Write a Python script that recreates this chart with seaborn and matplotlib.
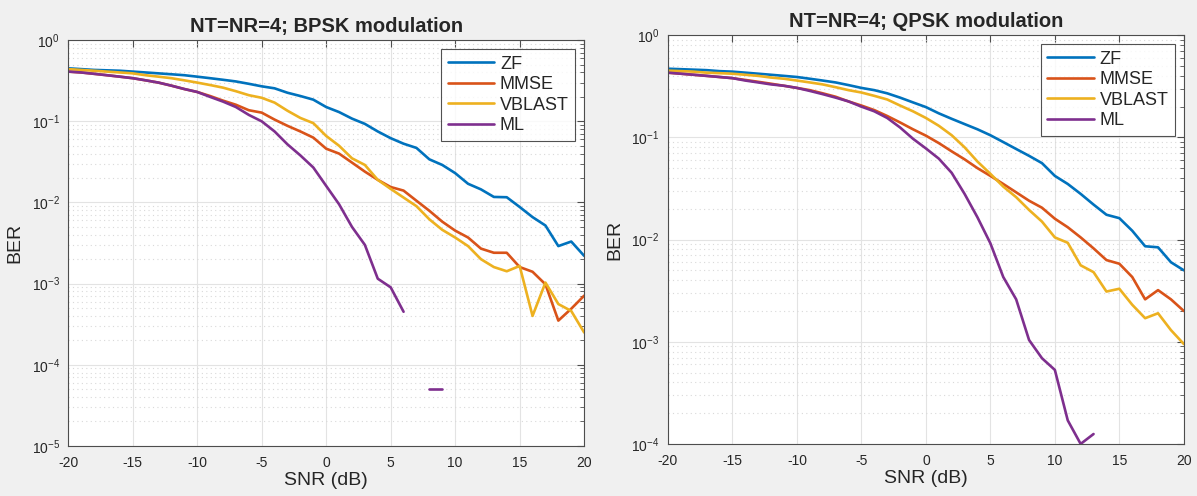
import numpy as np
import pandas as pd
import seaborn as sns
import matplotlib.pyplot as plt

# SNR axis (dB), one point per dB
snr = list(range(-20, 21))
methods = ["ZF", "MMSE", "VBLAST", "ML"]
matlab_colors = ["#0072BD", "#D95319", "#EDB120", "#7E2F8E"]
nan = np.nan

# -------- BPSK BER values --------
bpsk_zf = [0.45, 0.44, 0.43, 0.425, 0.42, 0.41, 0.40, 0.39, 0.38, 0.37,
           0.355, 0.34, 0.325, 0.31, 0.29, 0.27, 0.255, 0.225, 0.205, 0.185,
           0.15, 0.13, 0.108, 0.093, 0.075, 0.062, 0.053, 0.047, 0.034, 0.029,
           0.023, 0.017, 0.0145, 0.0117, 0.0116, 0.0088, 0.0066, 0.0052, 0.0029, 0.0033,
           0.0022]
bpsk_mmse = [0.41, 0.40, 0.385, 0.37, 0.355, 0.34, 0.32, 0.30, 0.275, 0.25,
             0.23, 0.205, 0.18, 0.16, 0.137, 0.128, 0.105, 0.088, 0.075, 0.063,
             0.046, 0.040, 0.031, 0.024, 0.019, 0.0155, 0.014, 0.0105, 0.0079, 0.0058,
             0.0045, 0.0037, 0.0027, 0.0024, 0.0024, 0.0016, 0.0014, 0.00098, 0.00035, 0.00049,
             0.00071]
bpsk_vblast = [0.44, 0.43, 0.42, 0.41, 0.40, 0.39, 0.37, 0.355, 0.34, 0.32,
               0.30, 0.28, 0.26, 0.235, 0.21, 0.195, 0.17, 0.135, 0.11, 0.095,
               0.066, 0.050, 0.035, 0.029, 0.019, 0.0147, 0.0115, 0.009, 0.0062, 0.0046,
               0.0037, 0.0029, 0.0020, 0.0016, 0.00142, 0.00165, 0.0004, 0.00103, 0.00056, 0.00046,
               0.00025]
bpsk_ml = [0.41, 0.40, 0.385, 0.37, 0.355, 0.34, 0.32, 0.30, 0.275, 0.25,
           0.23, 0.20, 0.175, 0.15, 0.12, 0.10, 0.075, 0.052, 0.038, 0.027,
           0.016, 0.0095, 0.005, 0.003, 0.00115, 0.0009, 0.00045, nan, 5e-5, 5e-5,
           nan, nan, nan, nan, nan, nan, nan, nan, nan, nan,
           nan]

# -------- QPSK BER values --------
qpsk_zf = [0.47, 0.465, 0.46, 0.455, 0.445, 0.44, 0.43, 0.42, 0.41, 0.40,
           0.39, 0.375, 0.36, 0.345, 0.325, 0.305, 0.29, 0.27, 0.245, 0.22,
           0.198, 0.172, 0.152, 0.135, 0.12, 0.105, 0.09, 0.077, 0.066, 0.056,
           0.042, 0.035, 0.028, 0.022, 0.0175, 0.0162, 0.0122, 0.0086, 0.0084, 0.006,
           0.005]
qpsk_mmse = [0.43, 0.42, 0.41, 0.40, 0.39, 0.38, 0.365, 0.35, 0.335, 0.32,
             0.305, 0.29, 0.27, 0.25, 0.225, 0.205, 0.185, 0.162, 0.14, 0.12,
             0.104, 0.088, 0.073, 0.061, 0.05, 0.042, 0.035, 0.029, 0.024, 0.0205,
             0.016, 0.0132, 0.0105, 0.0082, 0.0063, 0.0058, 0.0043, 0.0026, 0.0032, 0.0026,
             0.002]
qpsk_vblast = [0.45, 0.445, 0.44, 0.43, 0.425, 0.42, 0.41, 0.40, 0.385, 0.375,
               0.36, 0.345, 0.33, 0.31, 0.29, 0.275, 0.255, 0.235, 0.205, 0.18,
               0.155, 0.13, 0.105, 0.08, 0.058, 0.044, 0.033, 0.026, 0.0195, 0.015,
               0.0105, 0.0093, 0.0056, 0.0048, 0.0031, 0.0033, 0.0023, 0.0017, 0.0019, 0.0013,
               0.00095]
qpsk_ml = [0.43, 0.42, 0.41, 0.40, 0.39, 0.38, 0.36, 0.345, 0.33, 0.32,
           0.305, 0.285, 0.265, 0.245, 0.225, 0.20, 0.18, 0.155, 0.125, 0.097,
           0.078, 0.062, 0.045, 0.028, 0.0165, 0.0092, 0.0043, 0.0026, 0.00104, 0.00069,
           0.00053, 0.00017, 0.0001, 0.000125, nan, nan, nan, nan, nan, nan,
           nan]

panels = [
    ("NT=NR=4; BPSK modulation", [bpsk_zf, bpsk_mmse, bpsk_vblast, bpsk_ml], 1e-5),
    ("NT=NR=4; QPSK modulation", [qpsk_zf, qpsk_mmse, qpsk_vblast, qpsk_ml], 1e-4),
]


def to_long(series_list):
    # long table; zero-BER points (nan) split a curve into separate segments
    frames = []
    for name, vals in zip(methods, series_list):
        v = np.array(vals, dtype=float)
        seg = np.cumsum(np.isnan(v))
        df = pd.DataFrame({"SNR": snr, "BER": v, "method": name, "seg": seg})
        frames.append(df.dropna())
    out = pd.concat(frames, ignore_index=True)
    out["unit"] = out["method"] + "_" + out["seg"].astype(str)
    return out


sns.set_style("white")
plt.rcParams["font.family"] = ["Liberation Sans", "DejaVu Sans"]
plt.rcParams["axes.unicode_minus"] = False

fig = plt.figure(figsize=(11.97, 4.96), dpi=100, facecolor="#f0f0f0")
axes_pos = [[0.057, 0.101, 0.431, 0.818], [0.558, 0.105, 0.431, 0.824]]
axis_col = "#4d4d4d"

for pos, (title, series, ymin) in zip(axes_pos, panels):
    ax = fig.add_axes(pos)
    data = to_long(series)
    sns.lineplot(data=data, x="SNR", y="BER", hue="method", units="unit",
                 estimator=None, palette=matlab_colors, hue_order=methods,
                 linewidth=1.9, ax=ax)
    ax.set_yscale("log")
    ax.set_xlim(-20, 20)
    ax.set_ylim(ymin, 1)
    ax.set_xticks(range(-20, 21, 5))
    ax.set_facecolor("white")
    ax.grid(True, which="major", color="#e3e3e3", linewidth=0.8)
    ax.grid(True, which="minor", axis="y", color="#d9d9d9", linestyle=(0, (1, 3)), linewidth=0.8)
    ax.tick_params(which="both", direction="in", top=True, right=True,
                   colors=axis_col, labelcolor="#262626", labelsize=10)
    ax.tick_params(which="major", length=5)
    ax.tick_params(which="minor", length=3)
    ax.tick_params(axis="x", pad=7)
    ax.tick_params(axis="y", pad=6)
    for s in ax.spines.values():
        s.set_color(axis_col)
        s.set_linewidth(0.8)
    ax.set_title(title, fontsize=14.5, fontweight="bold", pad=6)
    ax.set_xlabel("SNR (dB)", fontsize=14, color="#262626", labelpad=2)
    ax.set_ylabel("BER", fontsize=14, color="#262626", labelpad=6)
    handles, labels = ax.get_legend_handles_labels()
    leg = ax.legend(handles, labels, loc="upper right", fontsize=13,
                    frameon=True, fancybox=False, edgecolor="#262626",
                    borderaxespad=0.5, handlelength=2.6, handletextpad=0.3,
                    labelspacing=0.2, borderpad=0.35)
    leg.get_frame().set_linewidth(0.8)

fig.savefig("out.png", dpi=100, facecolor=fig.get_facecolor())
